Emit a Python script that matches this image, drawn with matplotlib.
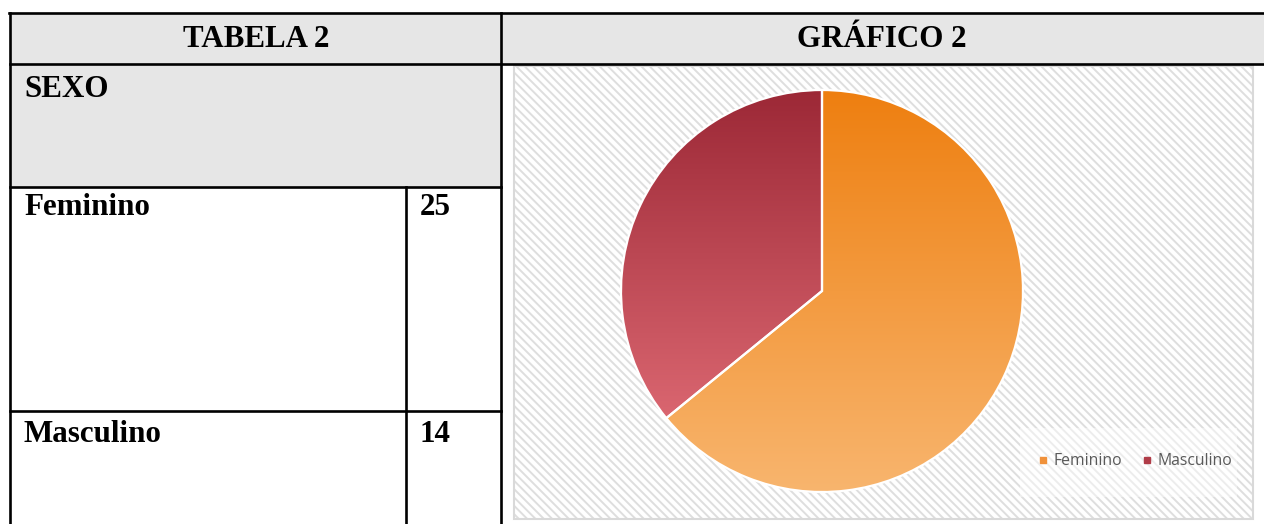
import matplotlib.pyplot as plt
import numpy as np
from matplotlib.patches import Rectangle
from matplotlib.lines import Line2D
from matplotlib.colors import LinearSegmentedColormap

plt.rcParams['hatch.linewidth'] = 1.4

# dados da tabela / grafico
categorias = ['Feminino', 'Masculino']
valores = [25, 14]
titulo_tabela = 'TABELA 2'
titulo_grafico = 'GRÁFICO 2'
rotulo_linha = 'SEXO'

# cores (topo -> base) de cada fatia
cores_topo = ['#EE7F10', '#9C2836']
cores_base = ['#F8B56E', '#DA6670']
cores_legenda = ['#F0913A', '#B03C48']

W, H = 1264, 524
fig = plt.figure(figsize=(W / 100, H / 100), dpi=100)

# eixo de fundo em pixels para a tabela
bg = fig.add_axes([0, 0, 1, 1])
bg.set_xlim(0, W)
bg.set_ylim(H, 0)
bg.axis('off')

cinza = '#E6E6E6'
bg.add_patch(Rectangle((10, 13), W - 10, 51, facecolor=cinza, edgecolor='none'))
bg.add_patch(Rectangle((10, 64), 491, 123, facecolor=cinza, edgecolor='none'))

# area do grafico com hachura
bg.add_patch(Rectangle((514, 66), 739, 453, facecolor='white', edgecolor='#DEDEDE',
                       hatch='\\\\\\\\', lw=0))
bg.add_patch(Rectangle((514, 66), 739, 453, facecolor='none', edgecolor='#D9D9D9', lw=1.5))
# caixa da legenda
bg.add_patch(Rectangle((1020, 428), 217, 69, facecolor='white', alpha=0.45, edgecolor='none'))

lw = 1.9
linhas = [
    ((9, W), (13, 13)),
    ((10, 10), (13, H)),
    ((10, W), (64, 64)),
    ((501, 501), (13, H)),
    ((10, 501), (187, 187)),
    ((10, 501), (411, 411)),
    ((406, 406), (187, H)),
]
for xs, ys in linhas:
    bg.plot(xs, ys, color='black', lw=lw, solid_capstyle='projecting')

fonte = dict(family='Liberation Serif', weight='bold', size=22.3, color='black')
bg.text(256, 47, titulo_tabela, ha='center', va='baseline', **fonte)
bg.text(882, 47, titulo_grafico, ha='center', va='baseline', **fonte)
bg.text(24, 97, rotulo_linha, ha='left', va='baseline', **fonte)
linhas_y = [215, 442]
for nome, v, yb in zip(categorias, valores, linhas_y):
    bg.text(24, yb, nome, ha='left', va='baseline', **fonte)
    bg.text(420, yb, str(v), ha='left', va='baseline', **fonte)

# pizza
cx, cy, r = 822, 291, 202
ax = fig.add_axes([(cx - r) / W, (H - cy - r) / H, 2 * r / W, 2 * r / H])
ax.set_aspect('equal')
ax.axis('off')
ax.patch.set_alpha(0)

wedges, _ = ax.pie(valores, startangle=90, counterclock=False, radius=1,
                   colors=['none', 'none'],
                   wedgeprops=dict(edgecolor='white', linewidth=1.6))
for w, c0, c1 in zip(wedges, cores_topo, cores_base):
    cmap = LinearSegmentedColormap.from_list('g', [c0, c1])
    grad = np.linspace(0, 1, 256).reshape(-1, 1)
    ext = w.get_path().get_extents()
    im = ax.imshow(grad, cmap=cmap, aspect='auto',
                   extent=[-1, 1, ext.y0, 1], origin='upper', zorder=1)
    im.set_clip_path(w)
    w.set_zorder(2)

ax.set_xlim(-1.005, 1.005)
ax.set_ylim(-1.005, 1.005)

handles = [Line2D([], [], marker='s', ls='none', markersize=4.5, color=c) for c in cores_legenda]
fig.legend(handles, categorias, loc='center', bbox_to_anchor=(1135 / W, 1 - 461 / H),
           ncol=2, frameon=False, handlelength=0.6, handletextpad=0.35, columnspacing=1.3,
           prop=dict(family='Open Sans', size=11.3), labelcolor='#595959')

fig.savefig('out.png', dpi=100)
